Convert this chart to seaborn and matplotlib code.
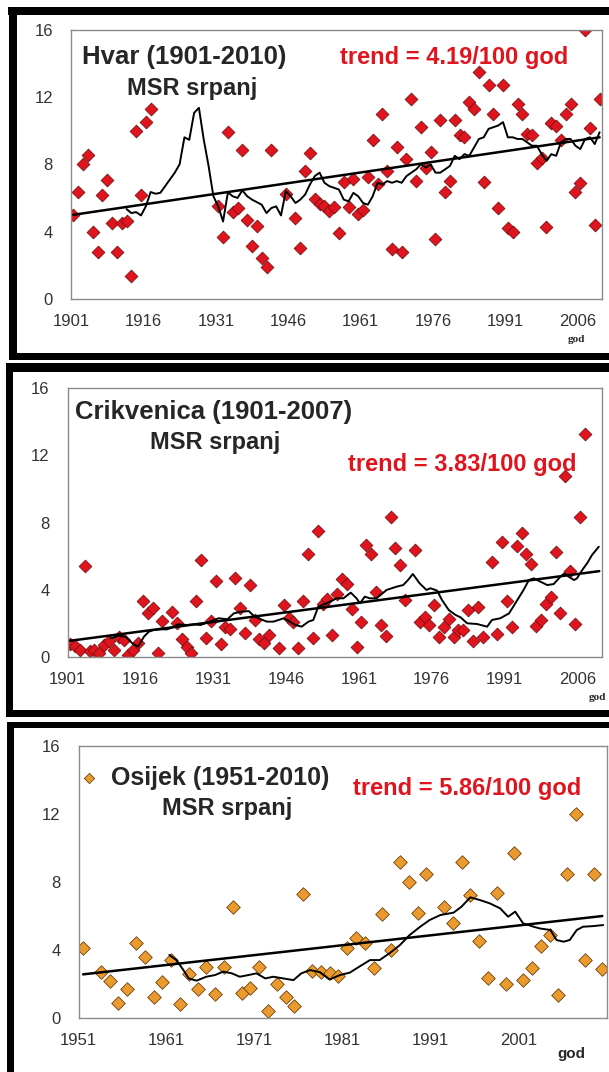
import numpy as np
import pandas as pd
import matplotlib
matplotlib.use("Agg")
import matplotlib.pyplot as plt
import seaborn as sns
from matplotlib.patches import Rectangle

nan = np.nan

# ---------------- data ----------------
hvar_years = list(range(1901, 2011))
hvar_vals = [
    5.0, 6.33, 8.0, 8.57, 3.99, 2.78, 6.15, 7.06, 4.52, 2.78,
    4.52, 4.62, 1.37, 10.0, 6.15, 10.5, 11.3, nan, nan, nan,
    nan, nan, nan, nan, nan, nan, nan, nan, nan, nan,
    5.5, 3.67, 9.9, 5.18, 5.42, 8.83, 4.68, 3.17, 4.33, 2.42,
    1.9, 8.87, nan, nan, 6.21, nan, 4.78, 3.02, 7.58, 8.65,
    5.95, 5.65, 5.5, 5.2, 5.46, 3.9, 6.94, 5.46, 7.14, 5.04,
    5.3, 7.26, 9.44, 6.83, 11.0, 7.58, 2.96, 9.0, 2.78, 8.31,
    11.9, 7.02, 10.2, 7.78, 8.71, 3.55, 10.65, 6.35, 6.98, 10.65,
    9.76, 9.62, 11.7, 11.3, 13.5, 6.92, 12.7, 11.0, 5.42, 12.7,
    4.19, 4.0, 11.6, 11.0, 9.8, 9.72, 8.08, 8.37, 4.3, 10.46,
    10.26, 9.44, 11.0, 11.6, 6.35, 6.88, 15.95, 10.18, 4.4, 11.9,
]
hvar_ma_years = list(range(1912, 2011))
hvar_ma_vals = [
    5.34, 5.1, 5.16, 4.96, 5.5, 6.35, 6.25, 6.3, 6.7, 7.1,
    7.5, 8.0, 9.6, 9.45, 11.05, 11.35, 9.46, 7.9, 6.1, 5.5,
    4.6, 6.33, 6.1, 6.0, 6.45, 6.1, 5.9, 5.75, 5.6, 5.1,
    5.4, 5.5, 4.96, 6.4, 6.1, 5.7, 5.9, 6.2, 6.8, 7.3,
    7.5, 6.9, 6.7, 6.6, 6.5, 5.9, 5.8, 6.3, 6.1, 5.7,
    5.6, 6.1, 6.9, 6.8, 7.0, 6.9, 7.0, 6.9, 7.3, 7.5,
    7.7, 8.0, 7.8, 8.0, 7.5, 7.5, 7.7, 7.9, 8.5, 8.3,
    8.6, 8.5, 9.0, 9.5, 9.6, 10.1, 10.2, 10.3, 10.5, 9.6,
    9.6, 9.5, 9.5, 9.3, 9.1, 9.1, 8.6, 8.2, 8.6, 8.5,
    9.3, 9.5, 9.5, 9.1, 8.9, 9.5, 9.6, 9.2, 9.9,
]
hvar_trend_years = [1901, 2010]
hvar_trend_vals = [5.0, 9.6]

crik_years = list(range(1901, 2008))
crik_vals = [
    0.74, 0.66, 0.4, 5.43, 0.36, 0.4, 0.24, 0.72, 0.95, 0.4,
    1.19, 1.0, 0.1, 0.4, 0.83, 3.34, 2.62, 2.92, 0.2, 2.13,
    nan, 2.68, 1.99, 1.03, 0.6, 0.2, 3.34, 5.77, 1.13, 2.1,
    4.51, 0.74, 1.79, 1.63, 4.67, 2.88, 1.39, 4.29, 2.19, 1.03,
    0.83, 1.29, nan, 0.54, 3.08, 2.29, 2.09, 0.5, 3.34, 6.1,
    1.09, 7.51, 3.16, 3.46, 1.31, 3.72, 4.65, 4.35, 2.82, 0.55,
    2.04, 6.66, 6.11, 3.88, 1.89, 1.21, 8.31, 6.48, 5.45, 3.38,
    nan, 6.34, 2.05, 2.37, 1.87, 3.06, 1.15, 1.79, 2.24, 1.15,
    1.61, 1.57, 2.76, 0.94, 2.94, 1.15, nan, 5.67, 1.35, 6.82,
    3.34, 1.75, 6.62, 7.36, 6.14, 5.53, 1.82, 2.21, 3.12, 3.58,
    6.26, 2.6, 10.8, 5.13, 1.93, 8.35, 13.3,
]
crik_ma_years = [
    1909.3, 1911, 1912.4, 1913.8, 1915, 1916.2, 1917.2, 1918.2, 1919.6, 1921,
    1922.4, 1923.2, 1925.1, 1926.5, 1927.9, 1929.2, 1930.6, 1931.6, 1933.4, 1934.7,
    1936.1, 1937.8, 1939, 1941.5, 1942.9, 1945, 1946.3, 1947.4, 1948.7, 1950.1,
    1951.1, 1952.1, 1953.8, 1955.9, 1957.3, 1958.8, 1960, 1960.7, 1961.7, 1962.7,
    1964.1, 1966.2, 1968.2, 1969.6, 1970.6, 1971.6, 1973, 1974.4, 1975.2, 1976.6,
    1977.6, 1979, 1980.4, 1981.4, 1982.8, 1984.8, 1986.9, 1987.9, 1989.6, 1991.4,
    1992.7, 1994.4, 1995.5, 1996.5, 1997.9, 1999.3, 2000.6, 2002, 2002.8, 2003.7,
    2004.8, 2005.4, 2006.5, 2007.5, 2008.5, 2009.9,
]
crik_ma_vals = [
    1.09, 1.25, 1.19, 0.8, 0.6, 1.19, 1.49, 1.59, 1.63, 1.63,
    1.79, 1.93, 1.89, 1.93, 1.89, 2.03, 2.19, 2.29, 2.23, 2.58,
    2.68, 2.72, 2.39, 2.09, 2.09, 2.29, 2.09, 1.89, 1.79, 2.09,
    2.19, 2.98, 3.18, 3.48, 3.48, 3.82, 3.48, 3.18, 3.58, 3.48,
    3.48, 3.98, 4.17, 4.27, 4.57, 4.93, 4.37, 3.98, 4.08, 3.94,
    3.38, 2.78, 2.49, 2.35, 1.99, 1.95, 1.79, 2.19, 2.29, 2.58,
    3.18, 3.98, 4.57, 4.67, 4.47, 4.27, 4.33, 4.77, 4.97, 4.77,
    4.57, 4.67, 5.17, 5.57, 6.06, 6.56,
]
crik_trend_years = [1901, 2010]
crik_trend_vals = [0.95, 5.1]

osij_years = list(range(1951, 2011))
osij_vals = [
    4.1, nan, 2.71, 2.16, 0.88, 1.69, 4.37, 3.55, 1.2, 2.12,
    3.39, 0.78, 2.59, 1.67, 3.0, 1.37, 2.96, 6.53, 1.43, 1.73,
    2.96, 0.41, 1.96, 1.2, 0.69, 7.25, 2.76, 2.71, 2.61, 2.45,
    4.12, 4.71, 4.37, 2.95, 6.12, 3.96, 9.18, 8.0, 6.16, 8.44,
    nan, 6.49, 5.57, 9.18, 7.2, 4.53, 2.35, 7.31, 2.0, 9.71,
    2.2, 2.9, 4.24, 4.88, 1.33, 8.45, 11.98, 3.37, 8.45, 2.86,
]
osij_ma_years = [
    1960.8, 1961.6, 1962.4, 1963, 1963.9, 1965, 1966, 1966.9, 1967.9, 1968.8,
    1969.8, 1970.7, 1971.7, 1972.6, 1973.75, 1974.9, 1975.8, 1976.8, 1977.9, 1979.0,
    1980.2, 1981.3, 1982.5, 1983.6, 1984.7, 1985.9, 1987.0, 1988.1, 1989.3, 1990.4,
    1991.6, 1993.1, 1994.0, 1995.0, 1996.1, 1997.2, 1998.4, 1999.3, 2000.1, 2001.0,
    2002.2, 2002.9, 2004.1, 2004.8, 2005.6, 2006.3, 2007.1, 2007.8, 2009.0, 2010.1,
]
osij_ma_vals = [
    3.69, 3.39, 2.8, 2.31, 2.18, 2.41, 2.51, 2.71, 2.61, 2.41,
    2.51, 2.61, 2.31, 2.41, 2.31, 2.21, 2.61, 2.8, 2.68, 2.25,
    2.51, 2.65, 3.04, 3.39, 3.39, 3.82, 4.27, 4.86, 5.35, 5.75,
    6.04, 6.18, 6.53, 7.08, 6.92, 6.73, 6.43, 5.94, 6.24, 5.55,
    5.35, 5.25, 5.16, 4.57, 4.47, 4.57, 5.16, 5.35, 5.39, 5.45,
]
osij_trend_years = [1951, 2010]
osij_trend_vals = [2.55, 5.98]

ticks_long = [1901, 1916, 1931, 1946, 1961, 1976, 1991, 2006]
ticks_osij = [1951, 1961, 1971, 1981, 1991, 2001, 2011]

# ---------------- figure ----------------
sns.set_style("white")
plt.rcParams['font.family'] = ['Liberation Sans', 'DejaVu Sans']

W, H = 609, 1072
fig = plt.figure(figsize=(W / 100, H / 100), dpi=100)
fig.patch.set_facecolor('white')

RED = '#e0141e'
ORANGE = '#eb9a2e'


def box(l, t, r, b):
    return [l / W, 1 - b / H, (r - l) / W, (b - t) / H]


def bar(l, t, r, b):
    fig.patches.append(Rectangle((l / W, 1 - b / H), (r - l) / W, (b - t) / H,
                                 transform=fig.transFigure, facecolor='black',
                                 edgecolor='none', zorder=0))


def txt(x, y, s, **kw):
    fig.text(x / W, 1 - y / H, s, ha='center', va='center', **kw)


def panel(rect, years, vals, ma_x, ma_y, tr_x, tr_y, ticks, fc, ec, size, label=None):
    ax = fig.add_axes(box(*rect))
    df = pd.DataFrame({'god': years, 'msr': vals}).dropna()
    sns.scatterplot(data=df, x='god', y='msr', ax=ax, marker='D', s=size,
                    color=fc, edgecolor=ec, linewidth=0.6, zorder=2, label=label)
    sns.lineplot(x=ma_x, y=ma_y, ax=ax, color='black', lw=1.4, zorder=3)
    sns.lineplot(x=tr_x, y=tr_y, ax=ax, color='black', lw=1.8, zorder=3)
    ax.set_xlim(years[0] - 0.5, 2010.5)
    ax.set_ylim(0, 16)
    ax.set_yticks([0, 4, 8, 12, 16])
    ax.set_xticks(np.array(ticks) - 0.5)
    ax.set_xticklabels([str(t) if t <= 2006 else '' for t in ticks])
    ax.set_xlabel('')
    ax.set_ylabel('')
    for s in ax.spines.values():
        s.set_color('#8a8a8a')
        s.set_linewidth(1.0)
    ax.tick_params(axis='both', direction='out', length=4, width=1, color='#6a6a6a',
                   labelsize=12, labelcolor='#333333')
    ax.tick_params(axis='x', pad=7)
    ax.tick_params(axis='y', pad=9)
    if ax.get_legend() is not None and label is None:
        ax.get_legend().remove()
    return ax


# black frames round each pasted chart
bar(8, 7, 609, 15)
bar(9, 7, 17, 360)
bar(9, 353, 609, 360)
bar(6, 363, 609, 372)
bar(6, 363, 13, 717)
bar(6, 710, 609, 717)
bar(7, 722, 609, 728)
bar(7, 722, 14, 1072)

# Hvar
panel((71, 29.5, 602, 299), hvar_years, hvar_vals, hvar_ma_years, hvar_ma_vals,
      hvar_trend_years, hvar_trend_vals, ticks_long, RED, '#7a1010', 42)
txt(184, 57, 'Hvar (1901-2010)', fontsize=18.5, fontweight='bold')
txt(192, 88, 'MSR srpanj', fontsize=17, fontweight='bold')
txt(454, 57, 'trend = 4.19/100 god', fontsize=17, fontweight='bold', color=RED)
txt(576, 339, 'god', fontsize=8, fontweight='bold', family='Liberation Serif')

# Crikvenica
panel((67.7, 388.3, 601.7, 656.7), crik_years, crik_vals, crik_ma_years, crik_ma_vals,
      crik_trend_years, crik_trend_vals, ticks_long, RED, '#7a1010', 42)
txt(214, 412, 'Crikvenica (1901-2007)', fontsize=18.5, fontweight='bold')
txt(215, 442, 'MSR srpanj', fontsize=17, fontweight='bold')
txt(462, 465, 'trend = 3.83/100 god', fontsize=17, fontweight='bold', color=RED)
txt(597, 698, 'god', fontsize=8, fontweight='bold', family='Liberation Serif')

# Osijek
ax3 = panel((78.7, 745.7, 606.7, 1017.7), osij_years, osij_vals, osij_ma_years, osij_ma_vals,
            osij_trend_years, osij_trend_vals, ticks_osij, ORANGE, '#6b4310', 48,
            label='Osijek (1951-2010)')
ax3.legend(loc='center left', bbox_to_anchor=(76 / W, 1 - 778 / H),
           bbox_transform=fig.transFigure, frameon=False, markerscale=0.75,
           handlelength=1.0, handletextpad=0.4, borderpad=0, borderaxespad=0,
           prop={'weight': 'bold', 'size': 18})
txt(227, 809, 'MSR srpanj', fontsize=17, fontweight='bold')
txt(467, 788, 'trend = 5.86/100 god', fontsize=17, fontweight='bold', color=RED)
txt(571, 1054, 'god', fontsize=11, fontweight='bold')

fig.savefig('out.png', dpi=100)
